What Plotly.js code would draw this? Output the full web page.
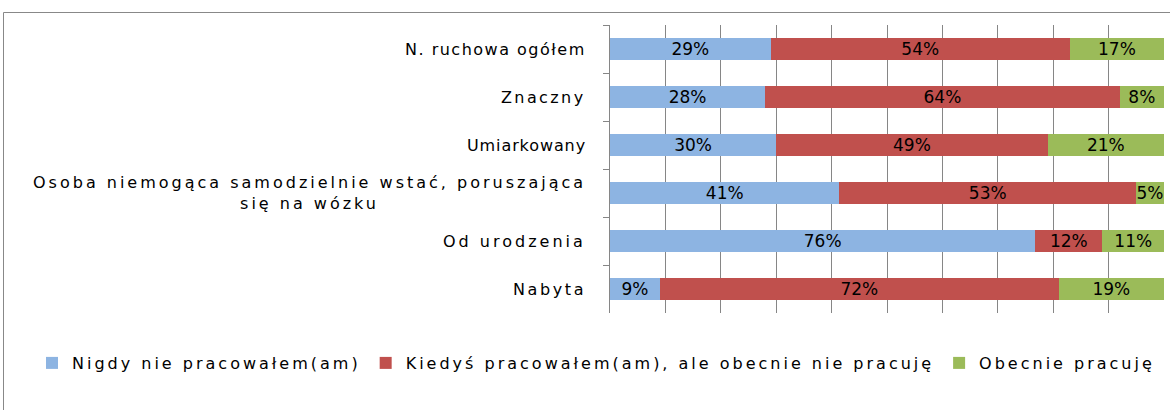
<!DOCTYPE html>
<html>
<head>
<meta charset="utf-8">
<script src="https://cdn.plot.ly/plotly-3.0.1.min.js"></script>
<style>
  html, body { margin: 0; padding: 0; background: #ffffff; }
  #chart { width: 1170px; height: 410px; }
  .legendtext { letter-spacing: 3px; }
</style>
</head>
<body>
<div id="chart"></div>
<script>
const categories = [
  "N. ruchowa ogółem",
  "Znaczny",
  "Umiarkowany",
  "Osoba niemogąca samodzielnie wstać, poruszająca<br>się na wózku",
  "Od urodzenia",
  "Nabyta"
];
const seriesNames = [
  "Nigdy nie pracowałem(am)",
  "Kiedyś pracowałem(am), ale obecnie nie pracuję",
  "Obecnie pracuję"
];
const nigdy = [29, 28, 30, 41, 76, 9];
const kiedys = [54, 64, 49, 53, 12, 72];
const obecnie = [17, 8, 21, 5, 11, 19];

// styling (kept apart from the data)
const colors = ["#8DB4E2", "#C0504D", "#9BBB59"];
const labelSpacing = [1.5, 2.4, 0.9, 3.0, 3.0, 2.6];

const allSeries = [nigdy, kiedys, obecnie];
const FONT = "DejaVu Sans, sans-serif";

const traces = allSeries.map((vals, i) => ({
  type: "bar",
  orientation: "h",
  name: seriesNames[i],
  y: categories,
  x: vals,
  text: vals.map(v => v + "%"),
  texttemplate: "%{text}",
  textposition: "inside",
  insidetextanchor: "middle",
  textangle: 0,
  constraintext: "none",
  textfont: { family: FONT, size: 17, color: "#000000" },
  marker: { color: colors[i], line: { width: 0 } },
  hoverinfo: "none"
}));

const L = 610, R = 1164, T = 25, B = 313;
const pw = R - L, ph = B - T;
const px = x => (x - L) / pw;
const py = y => (B - y) / ph;

const spaced = (label, s) => label.split("<br>")
  .map(line => '<span style="letter-spacing:' + s + 'px">' + line + '</span>')
  .join("<br>");

const annotations = categories.map((c, i) => ({
  xref: "paper", yref: "y",
  x: px(588), y: c,
  xanchor: "right", yanchor: "middle",
  align: "center",
  text: spaced(c, labelSpacing[i]),
  showarrow: false,
  font: { family: FONT, size: 16, color: "#000000" }
}));

const layout = {
  width: 1170, height: 410,
  margin: { l: L, r: 1170 - R, t: T, b: 410 - B, pad: 0 },
  paper_bgcolor: "#ffffff",
  plot_bgcolor: "#ffffff",
  barmode: "stack",
  barnorm: "percent",
  bargap: 0.56,
  showlegend: true,
  legend: {
    orientation: "h",
    x: px(32), y: py(363),
    xanchor: "left", yanchor: "middle",
    font: { family: FONT, size: 16, color: "#000000" },
    traceorder: "normal",
    itemclick: false, itemdoubleclick: false
  },
  xaxis: {
    range: [0, 100],
    dtick: 10,
    showgrid: true,
    gridcolor: "#868686",
    gridwidth: 1,
    zeroline: false,
    showline: false,
    showticklabels: false,
    ticks: "",
    fixedrange: true
  },
  yaxis: {
    type: "category",
    autorange: "reversed",
    showgrid: false,
    zeroline: false,
    showline: true,
    linecolor: "#868686",
    linewidth: 1,
    ticks: "outside",
    tickson: "boundaries",
    ticklen: 6,
    tickcolor: "#868686",
    tickwidth: 1,
    showticklabels: false,
    fixedrange: true
  },
  annotations: annotations,
  shapes: [
    { type: "line", xref: "paper", yref: "paper", x0: px(3.5), x1: px(1200), y0: py(12.5), y1: py(12.5), line: { color: "#888888", width: 1 } },
    { type: "line", xref: "paper", yref: "paper", x0: px(3.5), x1: px(3.5), y0: py(12.5), y1: py(420), line: { color: "#888888", width: 1 } }
  ]
};

Plotly.newPlot("chart", traces, layout, { displayModeBar: false, staticPlot: true });
</script>
</body>
</html>
